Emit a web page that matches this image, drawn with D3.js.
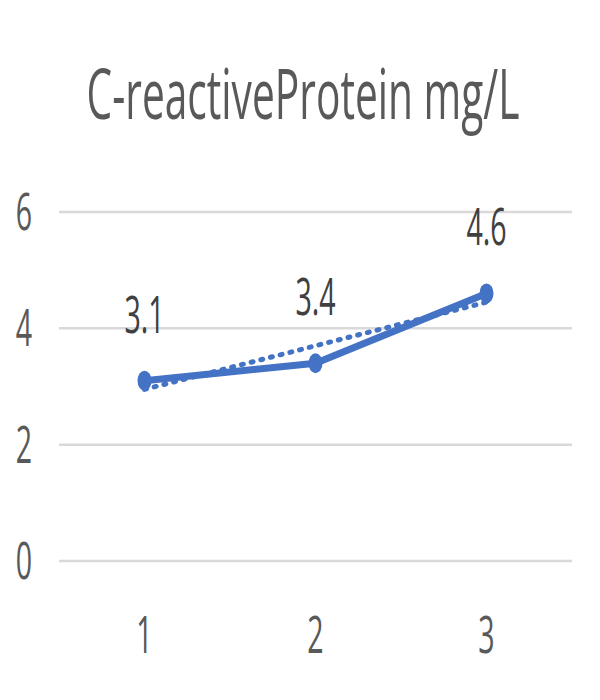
<!DOCTYPE html>
<html>
<head>
<meta charset="utf-8">
<script src="https://cdn.jsdelivr.net/npm/d3@7"></script>
<style>
  html, body { margin: 0; padding: 0; background: #fff; }
  svg { display: block; }
  text { font-family: "Open Sans", "Noto Sans", sans-serif; }
</style>
</head>
<body>
<svg id="chart" width="600" height="700"></svg>
<script>
// ---- data ----
const title = "C-reactiveProtein mg/L";
const categories = [1, 2, 3];
const values = [3.1, 3.4, 4.6];
const yTicks = [0, 2, 4, 6];

const svg = d3.select("#chart");
const color = "#4472C4";

const x = d3.scaleBand().domain(categories).range([59, 572]);
const y = d3.scaleLinear().domain([0, 6]).range([561, 212]);
const cx = d => x(d) + x.bandwidth() / 2;

const SX = 0.56; // horizontal squeeze of text

// gridlines
svg.append("g").selectAll("line").data(yTicks).join("line")
  .attr("x1", 59).attr("x2", 572)
  .attr("y1", d => y(d)).attr("y2", d => y(d))
  .attr("stroke", "#d9d9d9").attr("stroke-width", 2.5);

// y axis labels
svg.append("g").selectAll("text").data(yTicks).join("text")
  .attr("transform", d => `translate(24,${y(d) + 18}) scale(${SX},1)`)
  .attr("text-anchor", "middle")
  .attr("font-size", 51)
  .attr("fill", "#595959")
  .text(d => d);

// x axis labels
svg.append("g").selectAll("text").data(categories).join("text")
  .attr("transform", d => `translate(${cx(d)},653) scale(${SX},1)`)
  .attr("text-anchor", "middle")
  .attr("font-size", 51)
  .attr("fill", "#595959")
  .text(d => d);

// linear trendline (least squares from the series)
const n = values.length;
const mx = d3.mean(categories), my = d3.mean(values);
const slope = d3.sum(categories.map((c, i) => (c - mx) * (values[i] - my))) /
              d3.sum(categories.map(c => (c - mx) ** 2));
const icpt = my - slope * mx;
const first = categories[0], last = categories[n - 1];
svg.append("line")
  .attr("x1", cx(first)).attr("y1", y(icpt + slope * first))
  .attr("x2", cx(last)).attr("y2", y(icpt + slope * last))
  .attr("stroke", color).attr("stroke-width", 5)
  .attr("stroke-linecap", "round")
  .attr("stroke-dasharray", "2 8");

// series line
const line = d3.line().x((d, i) => cx(categories[i])).y(d => y(d));
svg.append("path").datum(values)
  .attr("d", line)
  .attr("fill", "none")
  .attr("stroke", color).attr("stroke-width", 7)
  .attr("stroke-linejoin", "round");

// markers
svg.append("g").selectAll("ellipse").data(values).join("ellipse")
  .attr("cx", (d, i) => cx(categories[i]))
  .attr("cy", d => y(d))
  .attr("rx", 7).attr("ry", 10)
  .attr("fill", color);

// data labels
svg.append("g").selectAll("text").data(values).join("text")
  .attr("transform", (d, i) => `translate(${cx(categories[i])},${y(d) - 48}) scale(${SX},1)`)
  .attr("text-anchor", "middle")
  .attr("font-size", 51)
  .attr("fill", "#404040")
  .text(d => d.toFixed(1));

// title
const t = svg.append("text")
  .attr("text-anchor", "middle")
  .attr("font-size", 70)
  .attr("fill", "#595959")
  .text(title);
const tw = t.node().getComputedTextLength();
const tsx = 433 / tw;
t.attr("transform", `translate(303,119) scale(${tsx},1)`);
</script>
</body>
</html>
